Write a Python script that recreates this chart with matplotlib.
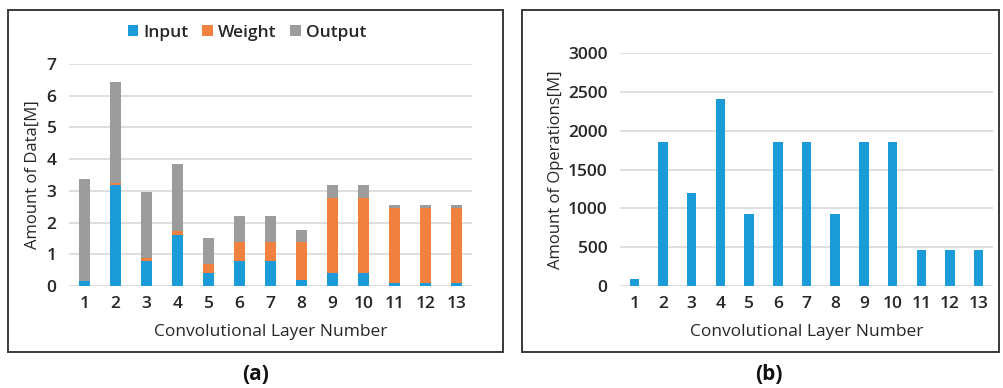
import numpy as np
import matplotlib
matplotlib.use("Agg")
import matplotlib.pyplot as plt
from matplotlib.patches import Rectangle

# ==== data ====
layers = [str(i) for i in range(1, 14)]
input_data = [0.15, 3.2, 0.8, 1.6, 0.4, 0.8, 0.8, 0.2, 0.4, 0.4, 0.1, 0.1, 0.1]
weight_data = [0.002, 0.04, 0.07, 0.15, 0.3, 0.6, 0.6, 1.2, 2.36, 2.36, 2.36, 2.36, 2.36]
output_data = [3.23, 3.2, 2.1, 2.1, 0.8, 0.8, 0.8, 0.38, 0.42, 0.42, 0.1, 0.1, 0.1]
operations = [87, 1850, 1200, 2405, 925, 1850, 1850, 925, 1850, 1850, 462, 462, 462]

C_IN = "#1B9BD7"
C_W = "#F2803E"
C_OUT = "#9C9C9C"
GRID = "#D9D9D9"
TXT = "#262626"

plt.rcParams['font.family'] = ['Open Sans', 'DejaVu Sans']
plt.rcParams['font.weight'] = 'semibold'

W, H = 1004, 388
fig = plt.figure(figsize=(W / 100, H / 100), dpi=100)

def px_box(x0, y0, x1, y1):
    return [x0 / W, 1 - y1 / H, (x1 - x0) / W, (y1 - y0) / H]

# panel frames
for x0, x1 in [(8, 503), (522, 999)]:
    fig.patches.append(Rectangle((x0 / W, 1 - 352 / H), (x1 - x0) / W, 342 / H,
                                 transform=fig.transFigure, fill=False,
                                 edgecolor="#3a3a3a", linewidth=1.4))

def style(ax):
    for s in ax.spines.values():
        s.set_visible(False)
    ax.tick_params(length=0, labelsize=12.5, colors=TXT)
    ax.tick_params(axis='y', pad=9)
    ax.tick_params(axis='x', pad=7)
    ax.yaxis.grid(True, color=GRID, linewidth=1.2)
    ax.set_axisbelow(True)

x = np.arange(len(layers))

# ==== (a) stacked data ====
ax1 = fig.add_axes(px_box(69, 64, 472, 286))
inp = np.array(input_data)
wt = np.array(weight_data)
outp = np.array(output_data)
bw = 0.36
ax1.bar(x, inp, bw, color=C_IN, label="Input")
ax1.bar(x, wt, bw, bottom=inp, color=C_W, label="Weight")
ax1.bar(x, outp, bw, bottom=inp + wt, color=C_OUT, label="Output")
ax1.set_xlim(-0.5, 12.5)
ax1.set_ylim(0, 7)
ax1.set_yticks(range(0, 8))
ax1.set_xticks(x)
ax1.set_xticklabels(layers)
style(ax1)
ax1.set_ylabel("Amount of Data[M]", fontsize=12, color=TXT, labelpad=4)
ax1.set_xlabel("Convolutional Layer Number", fontsize=12.5, color=TXT, labelpad=9)
ax1.legend(loc="center", bbox_to_anchor=(247 / W, 1 - 33 / H),
           bbox_transform=fig.transFigure, ncol=3, frameon=False,
           fontsize=12.5, handlelength=0.6, handleheight=0.6,
           handletextpad=0.3, columnspacing=0.8, labelcolor=TXT)

# ==== (b) operations ====
ax2 = fig.add_axes(px_box(620, 53, 993, 286))
ax2.bar(x, operations, 0.33, color=C_IN)
ax2.set_xlim(-0.5, 12.5)
ax2.set_ylim(0, 3000)
ax2.set_yticks(range(0, 3001, 500))
ax2.set_xticks(x)
ax2.set_xticklabels(layers)
style(ax2)
ax2.set_ylabel("Amount of Operations[M]", fontsize=12, color=TXT, labelpad=3)
ax2.set_xlabel("Convolutional Layer Number", fontsize=12.5, color=TXT, labelpad=9)

fig.text(256 / W, 1 - 375 / H, "(a)", ha="center", va="center",
         fontsize=15, fontweight="bold", color="#111111")
fig.text(769 / W, 1 - 375 / H, "(b)", ha="center", va="center",
         fontsize=15, fontweight="bold", color="#111111")

fig.savefig("out.png", dpi=100)
